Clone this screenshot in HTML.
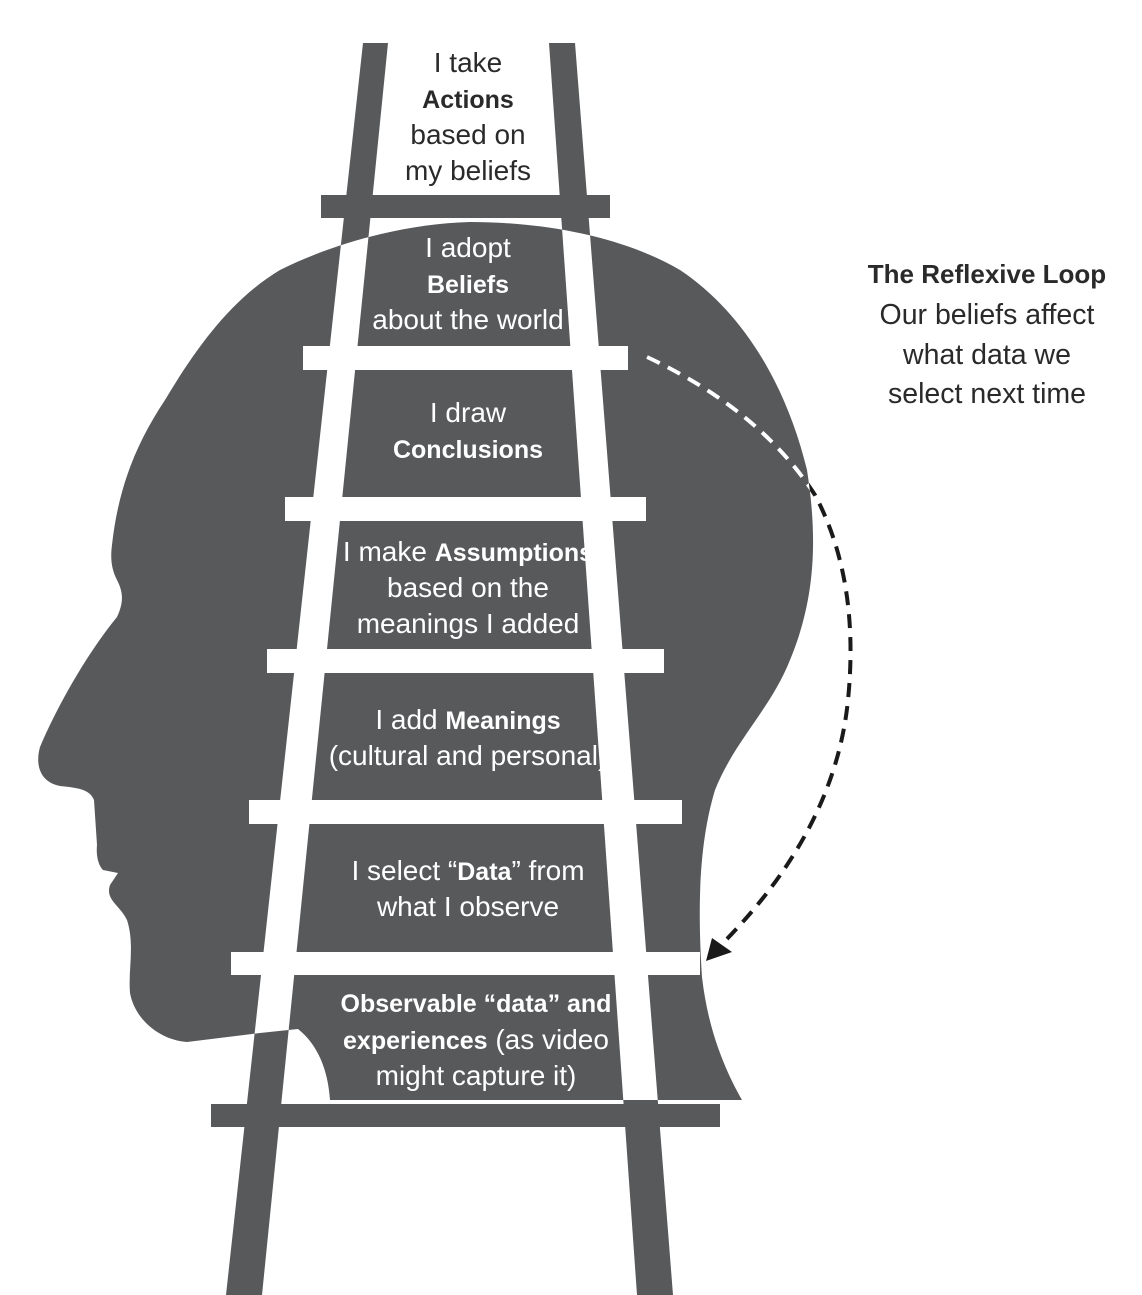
<!DOCTYPE html>
<html><head><meta charset="utf-8"><style>
html,body{margin:0;padding:0;background:#fff;}
svg{display:block;}
text{font-family:"Liberation Sans",sans-serif;font-size:28px;text-anchor:middle;}
.w{fill:#fff;}
.d{fill:#2a2a2a;}
.b{font-weight:bold;font-size:25px;}
</style></head><body>
<svg width="1142" height="1295" viewBox="0 0 1142 1295" xmlns="http://www.w3.org/2000/svg">
<defs>
<clipPath id="head"><path id="hp" d="M280,270 C330,245 400,224 470,222 C540,222 620,235 680,270 C740,310 785,380 807,470 C818,540 815,600 790,660 C770,710 735,740 715,790 C700,840 697,900 702,977 C708,1030 725,1070 742,1100 L330,1100 C328,1070 318,1045 298,1029 L260,1033 L187,1042 C160,1040 135,1020 130,993 C128,970 135,945 127,920 C120,905 105,900 110,885 L118,873 L103,870 C98,865 96,855 97,845 L94,800 C90,790 80,788 60,786 C40,782 35,765 40,747 C60,700 90,650 117,617 C125,600 122,590 117,580 C112,570 110,560 112,545 C118,490 135,445 165,400 C195,350 230,300 280,270 Z"/></clipPath>
</defs>
<use href="#hp" fill="#58595b"/>
<g fill="#58595b">
<polygon points="363,43 388,43 262,1295 226,1295"/>
<polygon points="549,43 575,43 673,1295 637,1295"/>
<rect x="321" y="195" width="289" height="23"/>
<rect x="303" y="346" width="325" height="24"/>
<rect x="285" y="497" width="361" height="24"/>
<rect x="267" y="649" width="397" height="24"/>
<rect x="249" y="800" width="433" height="24"/>
<rect x="231" y="952" width="469" height="23"/>
<rect x="211" y="1104" width="509" height="23"/>
</g>
<g clip-path="url(#head)" fill="#fff">
<polygon points="363,43 388,43 262,1295 226,1295"/>
<polygon points="549,43 575,43 673,1295 637,1295"/>
<rect x="321" y="195" width="289" height="23"/>
<rect x="303" y="346" width="325" height="24"/>
<rect x="285" y="497" width="361" height="24"/>
<rect x="267" y="649" width="397" height="24"/>
<rect x="249" y="800" width="433" height="24"/>
<rect x="231" y="952" width="469" height="23"/>
</g>
<path d="M647,357 Q760,410 815,495 Q860,580 848,700 Q835,830 722,944" fill="none" stroke="#1a1a1a" stroke-width="4" stroke-dasharray="14 9"/>
<g clip-path="url(#head)">
<path d="M647,357 Q760,410 815,495 Q860,580 848,700 Q835,830 722,944" fill="none" stroke="#fff" stroke-width="4" stroke-dasharray="14 9"/>
</g>
<polygon points="706,961 712,938 732,952" fill="#1a1a1a"/>

<text class="d" x="468" y="72">I take</text>
<text class="d b" x="468" y="108">Actions</text>
<text class="d" x="468" y="144">based on</text>
<text class="d" x="468" y="180">my beliefs</text>

<text class="w" x="468" y="257">I adopt</text>
<text class="w b" x="468" y="293">Beliefs</text>
<text class="w" x="468" y="329">about the world</text>

<text class="w" x="468" y="422">I draw</text>
<text class="w b" x="468" y="458">Conclusions</text>

<text class="w" x="468" y="561">I make <tspan class="b">Assumptions</tspan></text>
<text class="w" x="468" y="597">based on the</text>
<text class="w" x="468" y="633">meanings I added</text>

<text class="w" x="468" y="729">I add <tspan class="b">Meanings</tspan></text>
<text class="w" x="468" y="765">(cultural and personal)</text>

<text class="w" x="468" y="880">I select “<tspan class="b">Data</tspan>” from</text>
<text class="w" x="468" y="916">what I observe</text>

<text class="w b" x="476" y="1012">Observable “data” and</text>
<text class="w" x="476" y="1049"><tspan class="b">experiences</tspan> (as video</text>
<text class="w" x="476" y="1085">might capture it)</text>

<text class="d b" x="987" y="283" style="font-size:26px">The Reflexive Loop</text>
<text class="d" x="987" y="324" style="font-size:28.5px">Our beliefs affect</text>
<text class="d" x="987" y="364" style="font-size:28.5px">what data we</text>
<text class="d" x="987" y="403" style="font-size:28.5px">select next time</text>
</svg>
</body></html>
